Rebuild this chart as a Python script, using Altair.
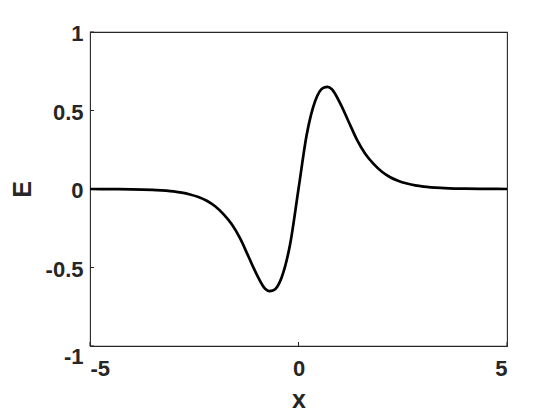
import altair as alt
import pandas as pd

# values
x_vals = [-5.0, -4.5, -4.0, -3.5, -3.0, -2.8, -2.6, -2.4, -2.2, -2.0, -1.8, -1.6, -1.4, -1.2, -1.0,
          -0.8, -0.7, -0.6, -0.4, -0.2, 0.0, 0.2, 0.4, 0.6, 0.7, 0.8, 1.0, 1.2, 1.4, 1.6, 1.8,
          2.0, 2.2, 2.4, 2.6, 2.8, 3.0, 3.5, 4.0, 4.5, 5.0]
e_vals = [0.0, -0.001, -0.002, -0.006, -0.015, -0.023, -0.035, -0.051, -0.075, -0.11, -0.16, -0.225,
          -0.315, -0.43, -0.545, -0.635, -0.65, -0.645, -0.56, -0.35, 0.0, 0.35, 0.56, 0.645, 0.65,
          0.635, 0.545, 0.43, 0.315, 0.225, 0.16, 0.11, 0.075, 0.051, 0.035, 0.023, 0.015, 0.006,
          0.002, 0.001, 0.0]
x_ticks = [-5, 0, 5]
y_ticks = [-1, -0.5, 0, 0.5, 1]

W, H = 417, 314
FONT = "Liberation Sans"
INK = "#262626"

df = pd.DataFrame({"x": x_vals, "E": e_vals})
xt = pd.DataFrame({"t": x_ticks})
yt = pd.DataFrame({"t": y_ticks})

xscale = alt.Scale(domain=[-5, 5], nice=False, zero=False)
yscale = alt.Scale(domain=[-1, 1], nice=False, zero=False)

line = alt.Chart(df).mark_line(color="black", strokeWidth=2.7, interpolate="monotone").encode(
    x=alt.X("x:Q", scale=xscale,
            axis=alt.Axis(values=x_ticks, title="x", ticks=False, domain=False, grid=False,
                          labelExpr="datum.value + ''",
                          labelFont=FONT, labelFontWeight="bold", labelFontSize=22, labelColor=INK,
                          labelPadding=12, titleFont=FONT, titleFontWeight="bold", titleFontSize=25,
                          titleColor=INK, titlePadding=8)),
    y=alt.Y("E:Q", scale=yscale,
            axis=alt.Axis(values=y_ticks, title="E", ticks=False, domain=False, grid=False,
                          labelExpr="datum.value + ''",
                          labelFont=FONT, labelFontWeight="bold", labelFontSize=22, labelColor=INK,
                          labelPadding=7,
                          labelOffset={"condition": {"test": "datum.value == -1", "value": 10},
                                       "value": 1.5},
                          titleFont=FONT, titleFontWeight="bold",
                          titleFontSize=25, titleColor=INK, titlePadding=10)),
)

ytick = alt.Chart(yt).mark_rule(color=INK, strokeWidth=1).encode(
    y=alt.Y("t:Q", scale=yscale), x=alt.value(0), x2=alt.value(4)
)
xtick = alt.Chart(xt).mark_rule(color=INK, strokeWidth=1).encode(
    x=alt.X("t:Q", scale=xscale), y=alt.value(H), y2=alt.value(H - 4)
)

chart = alt.layer(ytick, xtick, line).properties(
    width=W, height=H,
    autosize=alt.AutoSizeParams(type="none"),
    padding={"left": 82, "top": 24, "right": 40, "bottom": 70},
).configure(background="white").configure_view(stroke=INK, strokeWidth=1.1)

chart.save("out.html", embed_options={"renderer": "svg", "actions": False})
